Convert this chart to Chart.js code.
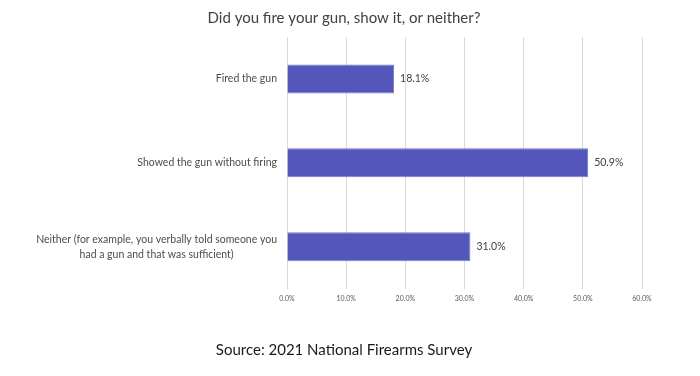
<!DOCTYPE html>
<html>
<head>
<meta charset="utf-8">
<script src="https://cdn.jsdelivr.net/npm/chart.js@4"></script>
<style>
  html, body { margin: 0; padding: 0; background: #ffffff; }
  #wrap { width: 700px; height: 376px; }
</style>
</head>
<body>
<div id="wrap"><canvas id="c" width="700" height="376"></canvas></div>
<script>
const categories = [
  ["Fired the gun"],
  ["Showed the gun without firing"],
  ["Neither (for example, you verbally told someone you", "had a gun and that was sufficient)"]
];
const values = [18.1, 50.9, 31.0];
const xTicks = [0, 10, 20, 30, 40, 50, 60];
const titleText = "Did you fire your gun, show it, or neither?";
const sourceText = "Source: 2021 National Firearms Survey";

const FONT = "Lato, 'Open Sans', sans-serif";

const labelPlugin = {
  id: 'customLabels',
  afterDraw(chart) {
    const ctx = chart.ctx;
    const y = chart.scales.y;
    ctx.save();
    ctx.font = "10.5px " + FONT;
    ctx.fillStyle = "#4d4d4d";
    ctx.textBaseline = "middle";
    ctx.textAlign = "center";
    const rightEdge = chart.chartArea.left - 10;
    const lh = 15;
    categories.forEach((lines, i) => {
      const cy = y.getPixelForValue(i);
      const maxW = Math.max(...lines.map(l => ctx.measureText(l).width));
      const cx = rightEdge - maxW / 2;
      const start = cy - (lines.length - 1) * lh / 2;
      lines.forEach((l, j) => ctx.fillText(l, cx, start + j * lh));
    });
    ctx.font = "10.5px " + FONT;
    ctx.fillStyle = "#404040";
    ctx.textAlign = "left";
    const meta = chart.getDatasetMeta(0);
    meta.data.forEach((bar, i) => {
      ctx.fillText(values[i].toFixed(1) + "%", bar.x + 6, bar.y);
    });
    ctx.restore();
  }
};

new Chart(document.getElementById('c'), {
  type: 'bar',
  data: {
    labels: categories.map(c => c.join(' ')),
    datasets: [{
      data: values,
      backgroundColor: '#5457b9',
      borderColor: '#7478d4',
      borderWidth: 1,
      barPercentage: 0.345,
      categoryPercentage: 1.0
    }]
  },
  options: {
    indexAxis: 'y',
    responsive: false,
    animation: false,
    devicePixelRatio: 1,
    layout: { padding: { left: 0, right: 12, top: 0, bottom: 0 } },
    scales: {
      x: {
        min: 0, max: 60,
        afterBuildTicks(scale) { scale.ticks = xTicks.map(v => ({ value: v })); },
        afterFit(scale) { scale.paddingLeft = 0; scale.paddingRight = 58; scale.height = 14.4; },
        grid: { color: '#d9d9d9', lineWidth: 1, drawTicks: false },
        border: { display: false },
        ticks: {
          padding: 6,
          color: '#595959',
          font: { size: 7, family: FONT },
          callback: v => Number(v).toFixed(1) + '%'
        }
      },
      y: {
        afterFit(scale) { scale.width = 287; scale.paddingTop = 0; scale.paddingBottom = 0; },
        grid: { display: false },
        border: { display: false },
        ticks: { display: false }
      }
    },
    plugins: {
      legend: { display: false },
      tooltip: { enabled: false },
      title: {
        display: true,
        text: titleText,
        color: '#404040',
        font: { size: 15, family: FONT, weight: 'normal', lineHeight: 1.2 },
        padding: { top: 9, bottom: 10 }
      },
      subtitle: {
        display: true,
        position: 'bottom',
        text: sourceText,
        color: '#1a1a1a',
        font: { size: 15, family: FONT, weight: 'normal', lineHeight: 1.2 },
        padding: { top: 38, bottom: 17 }
      }
    }
  },
  plugins: [labelPlugin]
});
</script>
</body>
</html>
